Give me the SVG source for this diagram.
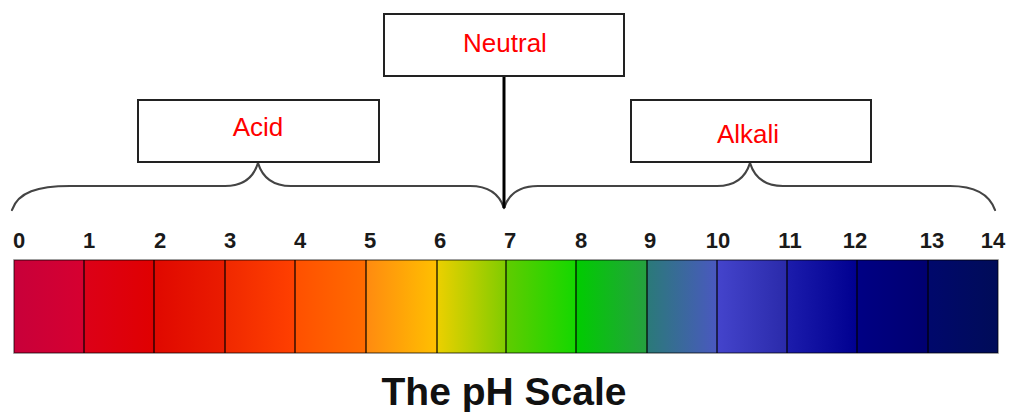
<svg xmlns="http://www.w3.org/2000/svg" width="1010" height="412" viewBox="0 0 1010 412">
<defs>
<style>
.box{fill:#fff;stroke:#222;stroke-width:2}
.lbl{font-family:"Liberation Sans",Arial,sans-serif;font-size:26px;fill:#ff0000;text-anchor:middle}
.num{font-family:"Liberation Sans",Arial,sans-serif;font-size:22px;font-weight:bold;fill:#1a1a1a;text-anchor:middle}
.title{font-family:"Liberation Sans",Arial,sans-serif;font-size:39px;font-weight:bold;fill:#111;text-anchor:middle}
.brace{fill:none;stroke:#444;stroke-width:2.2;stroke-linecap:round}
.div{stroke:#000;stroke-opacity:0.6;stroke-width:2}
</style>
<linearGradient id="g0"><stop offset="0" stop-color="#c8003a"/><stop offset="1" stop-color="#d60030"/></linearGradient>
<linearGradient id="g1"><stop offset="0" stop-color="#dc0018"/><stop offset="1" stop-color="#e00000"/></linearGradient>
<linearGradient id="g2"><stop offset="0" stop-color="#e00800"/><stop offset="1" stop-color="#ea1c00"/></linearGradient>
<linearGradient id="g3"><stop offset="0" stop-color="#f02800"/><stop offset="1" stop-color="#ff4000"/></linearGradient>
<linearGradient id="g4"><stop offset="0" stop-color="#ff5000"/><stop offset="1" stop-color="#ff6c00"/></linearGradient>
<linearGradient id="g5"><stop offset="0" stop-color="#ff8a10"/><stop offset="1" stop-color="#ffc000"/></linearGradient>
<linearGradient id="g6"><stop offset="0" stop-color="#ecd000"/><stop offset="1" stop-color="#80cc00"/></linearGradient>
<linearGradient id="g7"><stop offset="0" stop-color="#60cc00"/><stop offset="1" stop-color="#14d800"/></linearGradient>
<linearGradient id="g8"><stop offset="0" stop-color="#00cc00"/><stop offset="1" stop-color="#26a040"/></linearGradient>
<linearGradient id="g9"><stop offset="0" stop-color="#2a7a78"/><stop offset="1" stop-color="#4a58c0"/></linearGradient>
<linearGradient id="g10"><stop offset="0" stop-color="#4444cc"/><stop offset="1" stop-color="#2a2aaa"/></linearGradient>
<linearGradient id="g11"><stop offset="0" stop-color="#1c1cac"/><stop offset="1" stop-color="#000090"/></linearGradient>
<linearGradient id="g12"><stop offset="0" stop-color="#000084"/><stop offset="1" stop-color="#000070"/></linearGradient>
<linearGradient id="g13"><stop offset="0" stop-color="#00086c"/><stop offset="1" stop-color="#000c58"/></linearGradient>
</defs>
<rect width="1010" height="412" fill="#fff"/>

<g id="connectors">
<path class="brace" d="M12,210 C18,192 38,186 70,186 L225,186 C245,186 254,176 258,163 C262,176 271,186 291,186 L470,186 C490,186 500,196 504,208"/>
<path class="brace" d="M504,208 C508,196 518,186 538,186 L717,186 C737,186 746,176 750,163 C754,176 763,186 783,186 L950,186 C976,186 990,196 995,210"/>
<line x1="504" y1="76" x2="504" y2="208" stroke="#000" stroke-width="3"/>
</g>

<g id="acid">
<rect class="box" x="138" y="100" width="241" height="62"/>
<text class="lbl" x="258" y="136">Acid</text>
</g>
<g id="neutral">
<rect class="box" x="384" y="14" width="240" height="62"/>
<text class="lbl" x="505" y="52">Neutral</text>
</g>
<g id="alkali">
<rect class="box" x="631" y="100" width="240" height="62"/>
<text class="lbl" x="748" y="143">Alkali</text>
</g>

<g id="numbers">
<text class="num" x="19" y="248">0</text>
<text class="num" x="89" y="248">1</text>
<text class="num" x="160" y="248">2</text>
<text class="num" x="230" y="248">3</text>
<text class="num" x="300" y="248">4</text>
<text class="num" x="370" y="248">5</text>
<text class="num" x="440" y="248">6</text>
<text class="num" x="510" y="248">7</text>
<text class="num" x="581" y="248">8</text>
<text class="num" x="650" y="248">9</text>
<text class="num" x="718" y="248">10</text>
<text class="num" x="790" y="248">11</text>
<text class="num" x="855" y="248">12</text>
<text class="num" x="932" y="248">13</text>
<text class="num" x="993" y="248">14</text>
</g>

<g id="scale">
<rect x="14" y="260" width="70" height="93" fill="url(#g0)"/>
<rect x="84" y="260" width="70" height="93" fill="url(#g1)"/>
<rect x="154" y="260" width="71" height="93" fill="url(#g2)"/>
<rect x="225" y="260" width="70" height="93" fill="url(#g3)"/>
<rect x="295" y="260" width="71" height="93" fill="url(#g4)"/>
<rect x="366" y="260" width="71" height="93" fill="url(#g5)"/>
<rect x="437" y="260" width="69" height="93" fill="url(#g6)"/>
<rect x="506" y="260" width="70" height="93" fill="url(#g7)"/>
<rect x="576" y="260" width="71" height="93" fill="url(#g8)"/>
<rect x="647" y="260" width="70" height="93" fill="url(#g9)"/>
<rect x="717" y="260" width="70" height="93" fill="url(#g10)"/>
<rect x="787" y="260" width="70" height="93" fill="url(#g11)"/>
<rect x="857" y="260" width="71" height="93" fill="url(#g12)"/>
<rect x="928" y="260" width="70" height="93" fill="url(#g13)"/>
<line class="div" x1="84" y1="260" x2="84" y2="353"/>
<line class="div" x1="154" y1="260" x2="154" y2="353"/>
<line class="div" x1="225" y1="260" x2="225" y2="353"/>
<line class="div" x1="295" y1="260" x2="295" y2="353"/>
<line class="div" x1="366" y1="260" x2="366" y2="353"/>
<line class="div" x1="437" y1="260" x2="437" y2="353"/>
<line class="div" x1="506" y1="260" x2="506" y2="353"/>
<line class="div" x1="576" y1="260" x2="576" y2="353"/>
<line class="div" x1="647" y1="260" x2="647" y2="353"/>
<line class="div" x1="717" y1="260" x2="717" y2="353"/>
<line class="div" x1="787" y1="260" x2="787" y2="353"/>
<line class="div" x1="857" y1="260" x2="857" y2="353"/>
<line class="div" x1="928" y1="260" x2="928" y2="353"/>
<rect x="14" y="260" width="984" height="93" fill="none" stroke="#000" stroke-opacity="0.5" stroke-width="1.5"/>
</g>

<text class="title" x="504" y="405">The pH Scale</text>
</svg>
